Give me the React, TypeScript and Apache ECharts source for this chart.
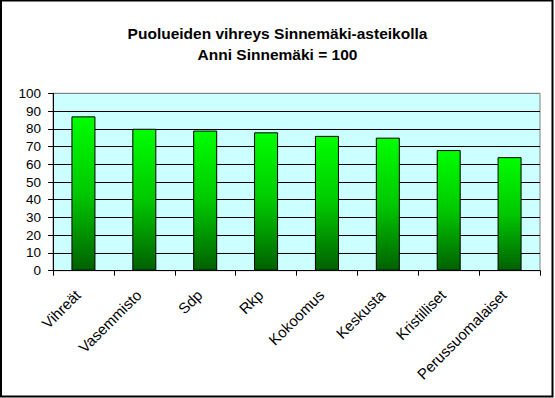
import React, { useEffect, useRef } from "react";
import * as echarts from "echarts";

const titleLines = ["Puolueiden vihreys Sinnemäki-asteikolla", "Anni Sinnemäki = 100"];
const categories = ["Vihreät", "Vasemmisto", "Sdp", "Rkp", "Kokoomus", "Keskusta", "Kristilliset", "Perussuomalaiset"];
const values = [87, 80, 79, 78, 76, 75, 68, 64];
const yMin = 0;
const yMax = 100;
const yInterval = 10;

export default function App() {
  const ref = useRef<HTMLDivElement>(null);
  useEffect(() => {
    if (!ref.current) return;
    const chart = echarts.init(ref.current, null, { renderer: "svg" });
    const nLines = Math.round((yMax - yMin) / yInterval) + 1;
    const splitColors = Array.from({ length: nLines }, (_, i) => (i === nLines - 1 ? "#808080" : "#000000"));
    chart.setOption({
      animation: false,
      backgroundColor: "#ffffff",
      textStyle: { fontFamily: "Liberation Sans, Arial, sans-serif" },
      title: {
        text: titleLines.join("\n"),
        left: "center",
        top: 18,
        textStyle: {
          fontFamily: "Liberation Sans, Arial, sans-serif",
          fontSize: 15.5,
          fontWeight: "bold",
          color: "#000",
          lineHeight: 21,
        },
      },
      grid: {
        left: 53,
        top: 93.3,
        width: 487,
        height: 177.4,
        show: true,
        backgroundColor: "#ccffff",
        borderColor: "#808080",
        borderWidth: 1,
      },
      xAxis: {
        type: "category",
        data: categories,
        boundaryGap: true,
        axisLine: { show: true, lineStyle: { color: "#000", width: 1 } },
        axisTick: { show: true, length: 5, lineStyle: { color: "#000" } },
        axisLabel: {
          rotate: 45,
          interval: 0,
          margin: 16,
          padding: [0, 8, 0, 0],
          color: "#000",
          fontSize: 15,
          fontFamily: "Liberation Sans, Arial, sans-serif",
        },
        splitLine: { show: false },
      },
      yAxis: {
        type: "value",
        min: yMin,
        max: yMax,
        interval: yInterval,
        axisLine: { show: true, lineStyle: { color: "#000", width: 1 } },
        axisTick: { show: true, length: 5, lineStyle: { color: "#000" } },
        axisLabel: {
          margin: 12,
          color: "#000",
          fontSize: 13.5,
          fontFamily: "Liberation Sans, Arial, sans-serif",
        },
        splitLine: { show: true, lineStyle: { color: splitColors, width: 1 } },
      },
      series: [
        {
          type: "bar",
          data: values,
          barWidth: 24,
          itemStyle: {
            color: new echarts.graphic.LinearGradient(0, 0, 0, 1, [
              { offset: 0, color: "#00ff00" },
              { offset: 0.5, color: "#00c800" },
              { offset: 1, color: "#006000" },
            ]),
            borderColor: "#000",
            borderWidth: 1,
          },
        },
      ],
      graphic: [
        {
          type: "rect",
          shape: { x: 1, y: 0.5, width: 551.5, height: 396 },
          style: { fill: "none", stroke: "#000", lineWidth: 2 },
          silent: true,
          z: 100,
        },
      ],
    });
    return () => chart.dispose();
  }, []);
  return (
    <div
      ref={ref}
      style={{ position: "fixed", left: 0, top: 0, width: 555, height: 398 }}
    />
  );
}
